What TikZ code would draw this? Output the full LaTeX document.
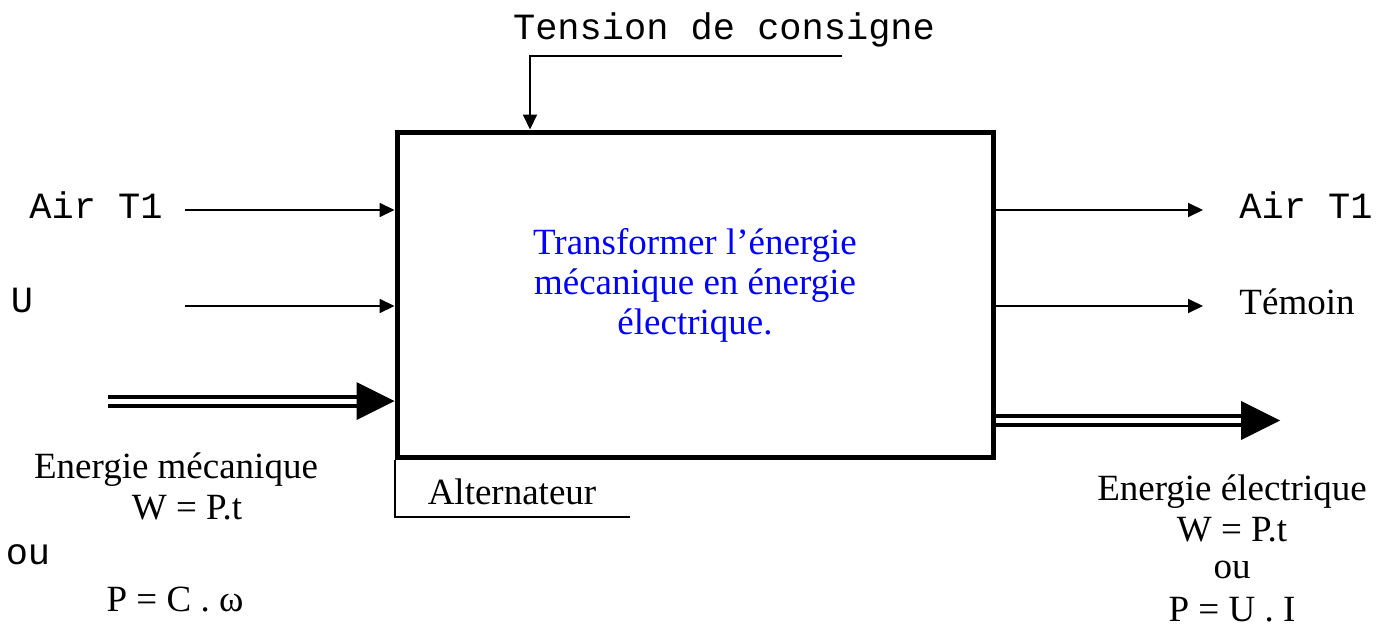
\documentclass[tikz,border=0pt]{standalone}
\usepackage{fontspec}
\setmainfont{Liberation Serif}
\setmonofont{Liberation Mono}
\usetikzlibrary{arrows.meta}
\definecolor{txtblue}{RGB}{0,0,255}
\tikzset{
  lbl/.style={inner sep=0pt, font=\fontsize{37}{40}\selectfont},
  mono/.style={inner sep=0pt, font=\fontsize{37}{40}\selectfont\ttfamily},
  thin/.style={line width=2pt},
  sig/.style={line width=2pt, -{Triangle[length=15pt,width=14pt]}},
  dbl/.style={double, double distance=5pt, line width=4pt},
  head/.style={fill=black}
}
\begin{document}
\begin{tikzpicture}[x=1pt,y=-1pt]
\useasboundingbox (0,0) rectangle (1376,634);
% main box
\node[draw, line width=5pt, minimum width=596pt, minimum height=325pt, inner sep=0pt] (box) at (695,294.5) {};
\node[lbl, text=txtblue, align=center] (fn) at (695,285) {Transformer l’énergie\\mécanique en énergie\\électrique.};
% top input
\node[mono] (cons) at (724,30) {Tension de consigne};
\coordinate (cs) at (842,56);
\coordinate (cc) at (530,56);
\draw[sig] (cs) -- (cc) -- (cc |- box.north);
% left inputs
\node[mono] (airL) at (96,205) {Air T1};
\node[mono] (uL) at (22,300) {U};
\coordinate (a1) at (185,210);
\coordinate (a2) at (185,306);
\draw[sig] (a1) -- (a1 -| box.west);
\draw[sig] (a2) -- (a2 -| box.west);
% mechanical energy
\coordinate (ms) at (108,401);
\coordinate (me) at (ms -| box.west);
\draw[dbl] (ms) -- ([xshift=-36pt]me);
\fill[head] (me) -- ++(-38,-19) -- ++(0,38) -- cycle;
\node[lbl] (em) at (176,470) {Energie mécanique};
\node[lbl] (w1) at (187,508) {W = P.t};
\node[mono] (ou1) at (28,555) {ou};
\node[lbl] (p1) at (175,600) {P = C . ω};
% right outputs
\coordinate (b1) at (1203,210);
\coordinate (b2) at (1203,306);
\draw[sig] (b1 -| box.east) -- (b1);
\draw[sig] (b2 -| box.east) -- (b2);
\node[mono] (airR) at (1306,205) {Air T1};
\node[lbl] (tem) at (1297,302) {Témoin};
% electrical energy
\coordinate (ee) at (1280,420.5);
\coordinate (es) at (ee -| box.east);
\draw[dbl] (es) -- ([xshift=-36pt]ee);
\fill[head] (ee) -- ++(-39,-19.5) -- ++(0,39) -- cycle;
\node[lbl] (eel) at (1232,492) {Energie électrique};
\node[lbl] (w2) at (1232,530) {W = P.t};
\node[lbl] (ou2) at (1232,570) {ou};
\node[lbl] (p2) at (1232,610) {P = U . I};
% mechanism label
\coordinate (al) at (630,517);
\draw[thin] (box.south west) -- (box.south west |- al) -- (al);
\node[lbl] (alt) at (512,492) {Alternateur};
\end{tikzpicture}
\end{document}
